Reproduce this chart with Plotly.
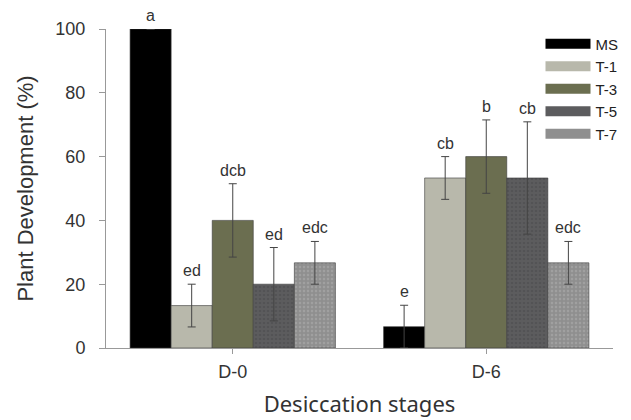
import plotly.graph_objects as go

stages = ["D-0", "D-6"]
series = ["MS", "T-1", "T-3", "T-5", "T-7"]
values = {
    "MS":  [100.0, 6.7],
    "T-1": [13.3, 53.3],
    "T-3": [40.0, 60.0],
    "T-5": [20.0, 53.3],
    "T-7": [26.7, 26.7],
}
errors = {
    "MS":  [0.0, 6.7],
    "T-1": [6.7, 6.7],
    "T-3": [11.5, 11.5],
    "T-5": [11.5, 17.6],
    "T-7": [6.7, 6.7],
}
letters = {
    "MS":  ["a", "e"],
    "T-1": ["ed", "cb"],
    "T-3": ["dcb", "b"],
    "T-5": ["ed", "cb"],
    "T-7": ["edc", "edc"],
}
colors = {"MS": "#000000", "T-1": "#b8b8ab", "T-3": "#6b6e50", "T-5": "#5c5c5e", "T-7": "#8f8f8f"}
patterns = {"MS": "", "T-1": "", "T-3": "", "T-5": ".", "T-7": "."}
pat_fg = {"MS": "#000", "T-1": "#000", "T-3": "#000", "T-5": "#4a4a4c", "T-7": "#b0b0b0"}

FONT = "Liberation Sans, Arial"
bargap = 0.19
n = len(series)
bw = (1 - bargap) / n
xpos = list(range(len(stages)))

fig = go.Figure()
for j, s in enumerate(series):
    fig.add_trace(go.Bar(
        name=s, x=xpos, y=values[s], showlegend=False,
        marker=dict(color=colors[s], line=dict(color="#3a3a3a", width=0.6),
                    pattern=dict(shape=patterns[s], fgcolor=pat_fg[s], size=4, solidity=0.3)),
        error_y=dict(type="data", array=errors[s], visible=True, color="#444", thickness=1, width=4),
    ))
    for i in xpos:
        top = values[s][i] + errors[s][i]
        fig.add_annotation(x=i + (j - (n - 1) / 2) * bw, y=top, text=letters[s][i],
                           showarrow=False, yanchor="bottom", yshift=3,
                           font=dict(family=FONT, size=16, color="#333"))

# legend entries with wide swatches
for s in series:
    fig.add_trace(go.Scatter(x=[None], y=[None], mode="lines", name=s,
                             line=dict(color=colors[s], width=10), showlegend=True))

fig.update_layout(
    width=623, height=412,
    margin=dict(l=98, r=18, t=21, b=72, autoexpand=False),
    paper_bgcolor="white", plot_bgcolor="white",
    barmode="group", bargap=bargap, bargroupgap=0,
    showlegend=True,
    legend=dict(x=0.857, y=1.005, xanchor="left", yanchor="top", bgcolor="rgba(0,0,0,0)",
                font=dict(family=FONT, size=15, color="#222"),
                itemwidth=45, tracegroupgap=0),
    font=dict(family=FONT, color="#333"),
)
fig.update_xaxes(
    range=[-0.5, 1.5], tickmode="array", tickvals=xpos, ticktext=stages, automargin=False,
    showline=True, linecolor="#999", linewidth=1, ticks="outside", ticklen=5, tickcolor="#999",
    showgrid=False, zeroline=False, ticklabelstandoff=2,
    tickfont=dict(family=FONT, size=18, color="#333"),
    title=dict(text="Desiccation stages", font=dict(family="Noto Sans", size=22, color="#333"), standoff=16),
)
fig.update_yaxes(
    range=[0, 100], tickvals=[0, 20, 40, 60, 80, 100], automargin=False,
    showline=True, linecolor="#999", linewidth=1, ticks="outside", ticklen=6, tickcolor="#999",
    showgrid=False, zeroline=False, ticklabelstandoff=10,
    tickfont=dict(family=FONT, size=18, color="#333"),
    title=dict(text="Plant Development (%)", font=dict(family=FONT, size=22, color="#333"), standoff=15),
)
fig.write_html("out.html")
